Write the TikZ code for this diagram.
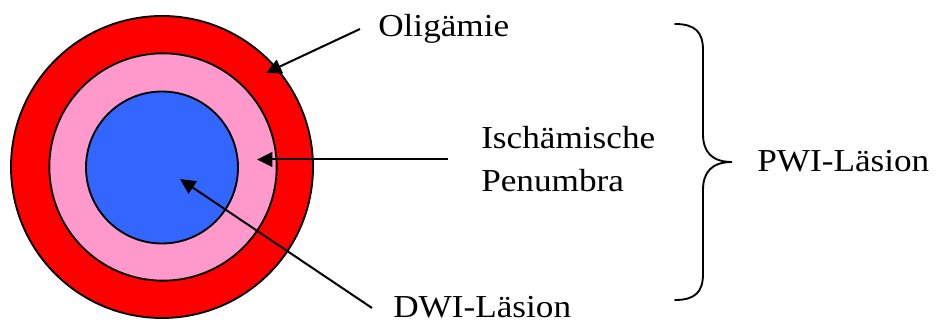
\documentclass[tikz,border=0pt]{standalone}
\usepackage{fontspec}
\setmainfont{Liberation Serif}[FakeStretch=1.1]
\usetikzlibrary{arrows.meta}
\definecolor{ringred}{RGB}{255,0,0}
\definecolor{ringpink}{RGB}{255,153,204}
\definecolor{coreblue}{RGB}{51,102,255}
\tikzset{
  ring/.style={circle, draw=black, line width=1.4pt, inner sep=0pt},
  pointer/.style={draw=black, line width=1.5pt, -{Triangle[length=11.5pt,width=11pt]}},
  lbl/.style={font=\fontsize{24}{29}\selectfont, inner sep=0pt, anchor=base west, text depth=0pt},
}
\begin{document}
\begin{tikzpicture}[x=0.75pt,y=-0.75pt]
\useasboundingbox (0,0) rectangle (936,323);
% rings
\node[ring, fill=ringred, minimum size=226.5pt] (outer) at (162,167) {};
\node[ring, fill=ringpink, minimum size=170.5pt] (middle) at (163,167) {};
\node[ring, fill=coreblue, minimum size=114pt] (inner) at (162,167.5) {};
% labels
\node[lbl] (olig) at (378,37) {Oligämie};
\node[lbl] (isch) at (481,149) {Ischämische};
\node[lbl] (penu) at (481,192) {Penumbra};
\node[lbl] (dwi) at (393,318) {DWI-Läsion};
\node[lbl] (pwi) at (757,172) {PWI-Läsion};
% arrow anchors
\coordinate (oligstart) at (360,29);
\coordinate (oligtip) at (266,73);
\coordinate (penustart) at (448,159.5);
\coordinate (penutip) at (257,159.5);
\coordinate (dwistart) at (372,308);
\coordinate (dwitip) at (180,179);
\draw[pointer] (oligstart) -- (oligtip);
\draw[pointer] (penustart) -- (penutip);
\draw[pointer] (dwistart) -- (dwitip);
% brace
\coordinate (btop) at (675,24);
\coordinate (btip) at (732,162);
\coordinate (bbot) at (675,300);
\draw[line width=1.4pt, line cap=round]
  (btop) .. controls (695,24) and (703,32) .. (703,50)
  -- (703,134)
  .. controls (703,152) and (712,162) .. (btip)
  .. controls (712,162) and (703,172) .. (703,190)
  -- (703,274)
  .. controls (703,292) and (695,300) .. (bbot);
\end{tikzpicture}
\end{document}
